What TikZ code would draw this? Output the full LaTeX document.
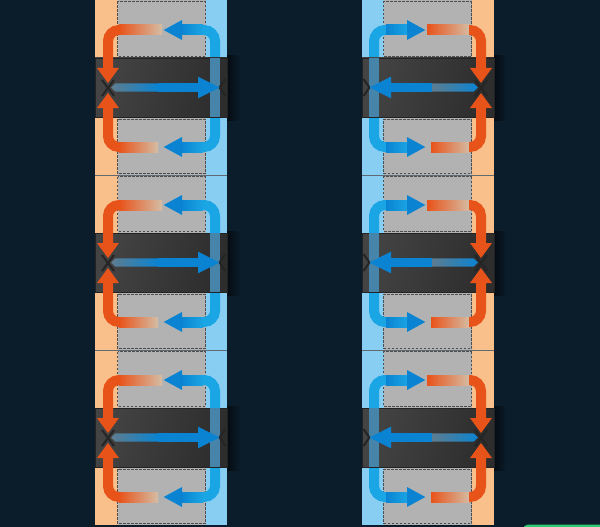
\documentclass[tikz,border=0pt]{standalone}
\definecolor{bg}{HTML}{0B1D2B}
\definecolor{peach}{HTML}{F9C08B}
\definecolor{skyb}{HTML}{88CEF3}
\definecolor{midgray}{HTML}{B2B2B2}
\definecolor{dashc}{HTML}{4E4E4E}
\definecolor{orng}{HTML}{E8531A}
\definecolor{orngfade}{HTML}{D5BDA5}
\definecolor{bluedk}{HTML}{0A84D2}
\definecolor{bluelt}{HTML}{1AA5E4}
\definecolor{bluemute}{HTML}{4784A9}
\definecolor{bluefade}{HTML}{5F7C8E}
\definecolor{boxa}{HTML}{444444}
\definecolor{boxb}{HTML}{2D2D2D}
\definecolor{boxedge}{HTML}{232323}
\definecolor{xdark}{HTML}{252525}
\definecolor{divc}{HTML}{5F6A73}
\definecolor{shadowc}{HTML}{040B11}
\definecolor{grn}{HTML}{2ECC71}
\tikzset{
  dashbox/.style={draw=dashc, line width=0.8pt, dash pattern=on 2.5pt off 1.5pt},
  orangestroke/.style={draw=orng, line width=10pt, rounded corners=11pt},
  bluestroke/.style={draw=bluelt, line width=10pt, rounded corners=11pt},
  xline/.style={draw=xdark, line width=2pt},
  divline/.style={draw=divc, line width=1.6pt},
}
\newcommand\rackunit{%
  % dashed slots
  \draw[dashbox] (117.5,1.5) rectangle (205.2,56.5);
  \draw[dashbox] (117.5,119) rectangle (205.2,173.5);
  % blue loop
  \draw[bluestroke] (202,30) -- (215,30) -- (215,147) -- (202,147);
  \shade[left color=bluedk, right color=bluelt] (181,25) rectangle (203,35);
  \shade[left color=bluedk, right color=bluelt] (181,142) rectangle (203,152);
  \fill[bluedk] (163.7,30) -- (182,20) -- (182,40) -- cycle;
  \fill[bluedk] (163.7,147) -- (182,137) -- (182,157) -- cycle;
  % server box
  \shade[left color=boxa, right color=boxb, shading angle=75] (95,58) rectangle (227,117.5);
  \draw[boxedge, line width=0.7pt] (95,58) rectangle (227,117.5);
  \fill[bluemute] (210,58.4) rectangle (220,117.1);
  % dark crossings
  \draw[xline] (102,80) -- (114,96) (102,96) -- (114,80);
  \draw[xline] (225.5,79) -- (219.5,87.5) -- (225.5,96);
  % orange loop
  \shade[left color=orng, right color=orngfade] (119,25) rectangle (162,35);
  \shade[left color=orng, right color=orngfade] (119,142) rectangle (158,152);
  \draw[orangestroke] (120,30) -- (108,30) -- (108,69);
  \draw[orangestroke] (120,147) -- (108,147) -- (108,107);
  \fill[orng] (97,68) -- (119,68) -- (108,83) -- cycle;
  \fill[orng] (97,108) -- (119,108) -- (108,93) -- cycle;
  % central arrow
  \shade[left color=bluefade, right color=bluedk] (111,87.5) -- (115.5,83.3) -- (158,83.3) -- (158,91.7) -- (115.5,91.7) -- cycle;
  \fill[bluedk] (157.5,83.3) rectangle (199,91.7);
  \fill[bluedk] (198,76.7) -- (219.5,87.5) -- (198,98.3) -- cycle;
}
\begin{document}
\begin{tikzpicture}[x=1pt,y=-1pt]
  \fill[bg] (0,0) rectangle (600,527);
  \useasboundingbox (0,0) rectangle (600,527);
  % columns
  \begin{scope}
    \fill[peach] (95,0) rectangle (117.5,525);
    \fill[midgray] (117.5,0) rectangle (205.5,525);
    \fill[skyb] (205.5,0) rectangle (227,525);
  \end{scope}
  \begin{scope}[xshift=589pt,xscale=-1]
    \fill[peach] (95,0) rectangle (117.5,525);
    \fill[midgray] (117.5,0) rectangle (205.5,525);
    \fill[skyb] (205.5,0) rectangle (227,525);
  \end{scope}
  % shadows of the server boxes
  \foreach \k in {0,1,2}{
    \shade[left color=shadowc, right color=bg] (227,56+175*\k) rectangle (240,120+175*\k);
    \shade[left color=shadowc, right color=bg] (494,56+175*\k) rectangle (507,120+175*\k);
  }
  % dividers
  \foreach \k in {1,2}{
    \draw[divline] (95,175*\k+0.5) -- (227,175*\k+0.5);
    \draw[divline] (362,175*\k+0.5) -- (494,175*\k+0.5);
  }
  % units
  \foreach \k in {0,1,2}{
    \begin{scope}[shift={(0,175*\k)}]
      \rackunit
    \end{scope}
    \begin{scope}[shift={(0,175*\k)},xshift=589pt,xscale=-1]
      \rackunit
    \end{scope}
  }
  % green bar at the corner
  \fill[grn, rounded corners=5pt] (523,524.6) rectangle (640,540);
\end{tikzpicture}
\end{document}
